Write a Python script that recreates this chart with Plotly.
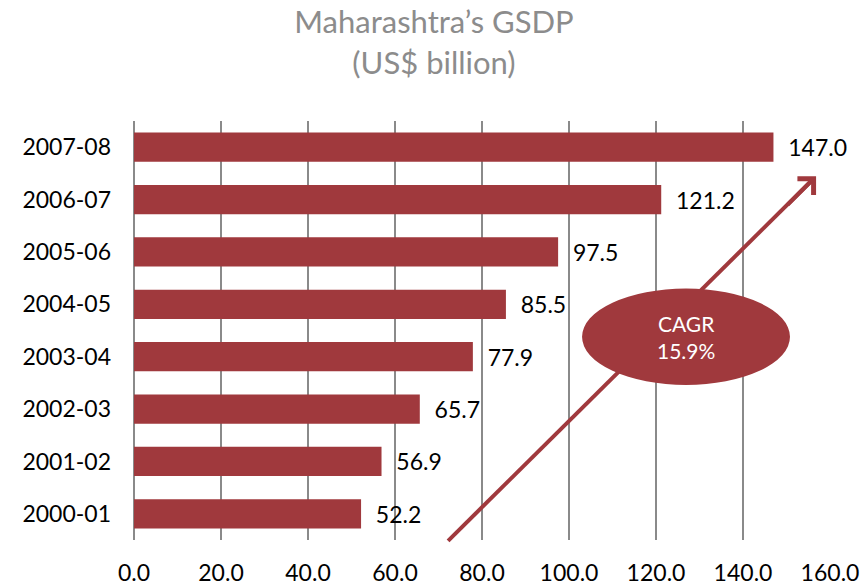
import plotly.graph_objects as go

categories = ["2000-01", "2001-02", "2002-03", "2003-04", "2004-05", "2005-06", "2006-07", "2007-08"]
gsdp = [52.2, 56.9, 65.7, 77.9, 85.5, 97.5, 121.2, 147.0]
x_ticks = [0, 20, 40, 60, 80, 100, 120, 140, 160]
x_tick_labels = ["0.0", "20.0", "40.0", "60.0", "80.0", "100.0", "120.0", "140.0", "160.0"]
title_text = "Maharashtra’s GSDP<br>(US$ billion)"
cagr_text = "CAGR<br>15.9%"

BAR = "#A0393D"
FONT = "Lato"
PAD = "\u00a0\u00a0"

fig = go.Figure()
fig.add_trace(go.Bar(
    y=categories, x=gsdp, orientation="h",
    marker=dict(color=BAR, line=dict(width=0)),
    width=0.56,
    text=[PAD + f"{v:.1f}" for v in gsdp], textposition="outside",
    textfont=dict(family=FONT, size=23, color="#000000"),
    cliponaxis=False,
))

# arrow (line under the ellipse)
fig.add_shape(type="line", xref="x", yref="paper",
              x0=72.2, y0=-0.002, x1=155.5, y1=0.855,
              line=dict(color=BAR, width=4))
# CAGR ellipse
fig.add_shape(type="circle", xref="x", yref="paper",
              x0=103.0, x1=150.8, y0=0.37, y1=0.60,
              fillcolor=BAR, line=dict(color=BAR, width=0))
# arrow head
fig.add_annotation(x=156.8, y=0.868, xref="x", yref="paper",
                   ax=-30, ay=30, axref="pixel", ayref="pixel",
                   text="", showarrow=True, arrowhead=4, arrowsize=1.1,
                   arrowwidth=4, arrowcolor=BAR)
fig.add_annotation(x=126.9, y=0.485, xref="x", yref="paper",
                   text=cagr_text, showarrow=False,
                   font=dict(family=FONT, size=21, color="#FFFFFF"))

fig.update_layout(
    width=868, height=587,
    margin=dict(l=134, r=38, t=121, b=47),
    paper_bgcolor="white", plot_bgcolor="white",
    showlegend=False,
    bargap=0.44,
    title=dict(text=title_text, x=0.5, xref="container", xanchor="center",
               y=0.943, yref="container", yanchor="middle",
               font=dict(family=FONT, size=31, color="#8C8C8C")),
    font=dict(family=FONT),
)
fig.update_xaxes(range=[0, 160], tickvals=x_ticks, ticktext=x_tick_labels,
                 showgrid=True, gridcolor="#8A8A8A", gridwidth=1.5,
                 zeroline=True, zerolinecolor="#8A8A8A", zerolinewidth=1.5,
                 showline=False, ticks="", automargin=False,
                 tickfont=dict(family=FONT, size=23, color="#000000"),
                 ticklabelstandoff=17)
fig.update_yaxes(type="category", categoryorder="array", categoryarray=categories,
                 showgrid=False, zeroline=False, showline=False, ticks="",
                 automargin=False,
                 tickfont=dict(family=FONT, size=23, color="#000000"),
                 ticklabelstandoff=22)

# remove the page's default 8px body margin so the figure fills the window
fig.write_html("out.html", config={"displayModeBar": False},
               post_script="document.body.style.margin='0';")
